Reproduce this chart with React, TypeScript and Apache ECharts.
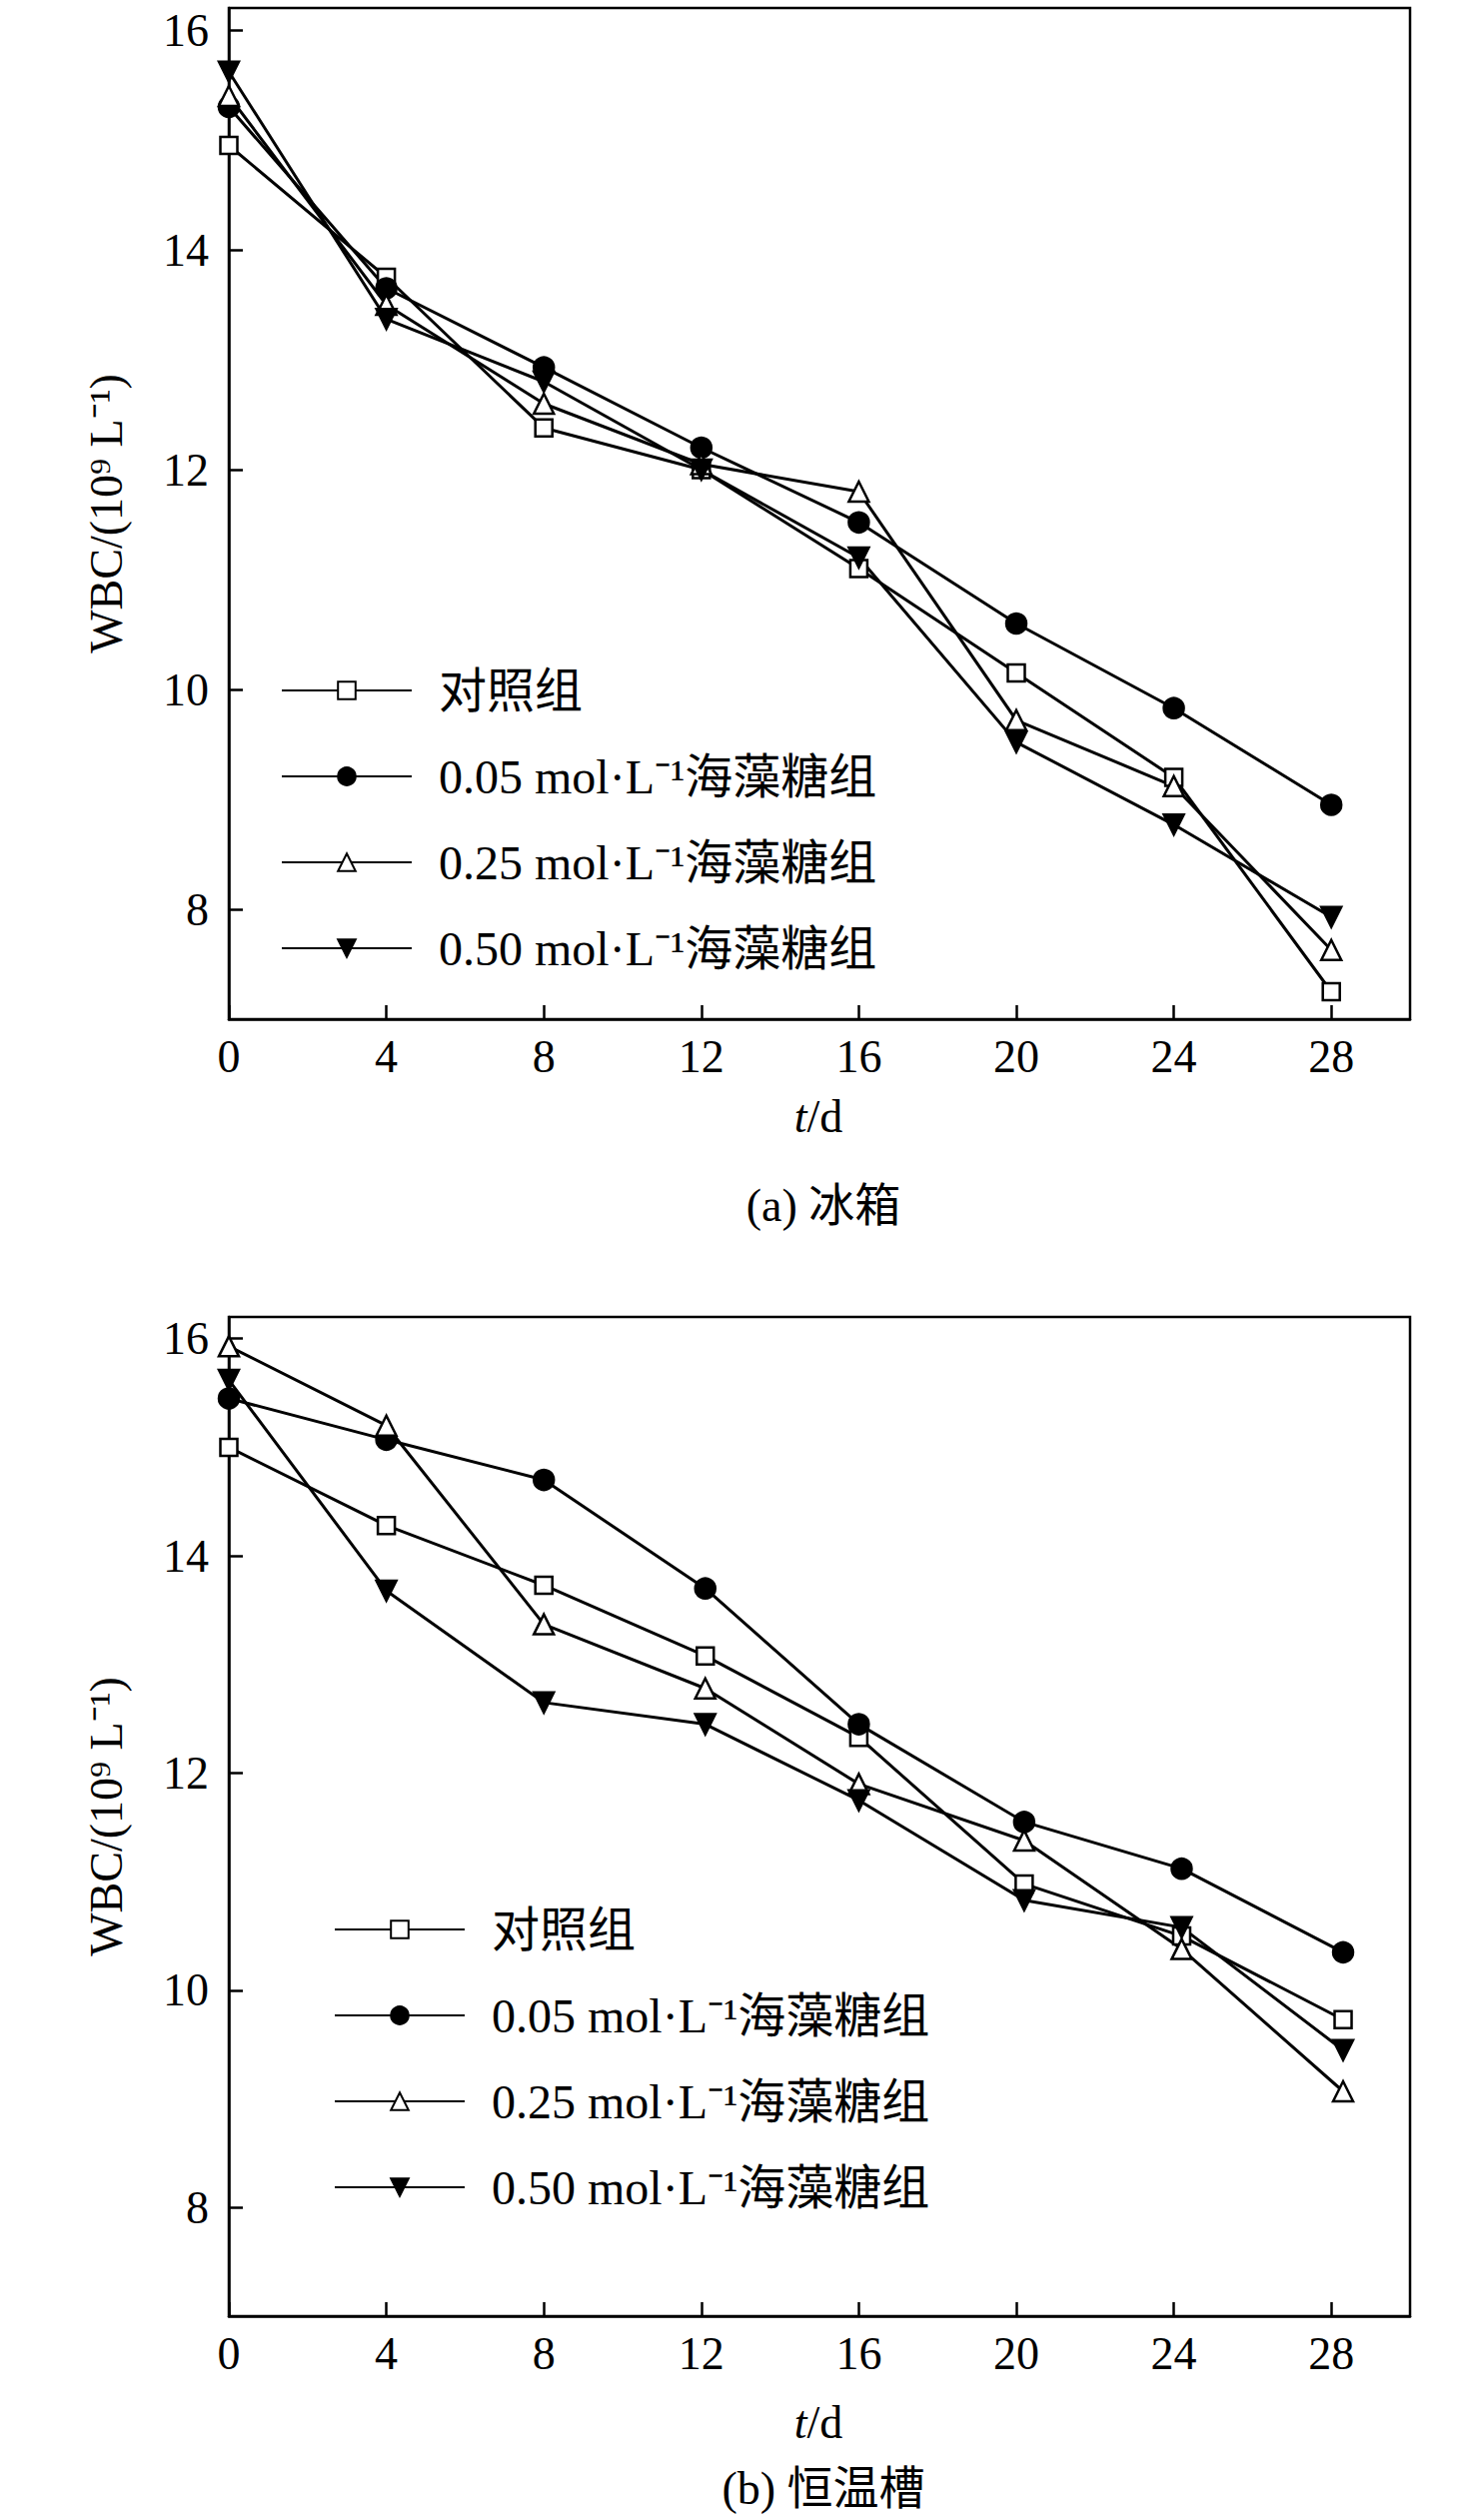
import React, { useEffect, useRef } from 'react';
import * as echarts from 'echarts';

const seriesNames = ['对照组', '0.05 mol·L⁻¹海藻糖组', '0.25 mol·L⁻¹海藻糖组', '0.50 mol·L⁻¹海藻糖组'];
const daysA = [0, 4, 8, 12, 16, 20, 24, 28];
const daysB = [0, 4, 8, 12.1, 16, 20.2, 24.2, 28.3];
const xTicks = [0, 4, 8, 12, 16, 20, 24, 28];
const yTicks = [8, 10, 12, 14, 16];

const fridge = [
  [14.95, 13.75, 12.38, 12.0, 11.1, 10.15, 9.2, 7.25],
  [15.3, 13.65, 12.93, 12.2, 11.52, 10.6, 9.83, 8.95],
  [15.4, 13.5, 12.6, 12.05, 11.8, 9.72, 9.12, 7.63],
  [15.62, 13.37, 12.8, 12.0, 11.2, 9.52, 8.77, 7.93],
];
const bath = [
  [15.0, 14.28, 13.73, 13.08, 12.33, 10.98, 10.5, 9.73],
  [15.45, 15.07, 14.7, 13.7, 12.45, 11.55, 11.12, 10.35],
  [15.93, 15.2, 13.37, 12.78, 11.9, 11.38, 10.38, 9.07],
  [15.62, 13.68, 12.65, 12.45, 11.75, 10.83, 10.58, 9.45],
];

const FONT = '"Liberation Serif", "Times New Roman", "Noto Sans CJK SC", serif';
const symbols = ['rect', 'circle', 'triangle', 'triangle'];
const fills = ['#fff', '#000', '#fff', '#000'];
const rotates = [0, 0, 0, 180];

const App: React.FC = () => {
  const ref = useRef<HTMLDivElement>(null);

  useEffect(() => {
    document.body.style.margin = '0';
    if (!ref.current) return;
    const chart = echarts.init(ref.current, undefined, { renderer: 'svg' });

    const tops = [8, 1318];
    const heights = [1012, 1000];
    const axisText = { fontFamily: FONT, fontSize: 46, color: '#000' };

    const makeSeries = (data: number[][], days: number[], idx: number) =>
      data.map((vals, i) => ({
        name: seriesNames[i],
        type: 'line' as const,
        xAxisIndex: idx,
        yAxisIndex: idx,
        data: vals.map((v, j) => [days[j], v]),
        symbol: symbols[i],
        symbolSize: i === 0 ? 17 : 20,
        symbolRotate: rotates[i],
        lineStyle: { color: '#000', width: 3 },
        itemStyle: { color: fills[i], borderColor: '#000', borderWidth: 2.5 },
      }));

    const tdText = (x: number, y: number) => ({
      type: 'text', x, y,
      style: {
        text: '{i|t}/d', font: `46px ${FONT}`, fill: '#000', align: 'center', verticalAlign: 'middle',
        rich: { i: { fontStyle: 'italic', fontFamily: FONT, fontSize: 46 } },
      },
    });

    chart.setOption({
      animation: false,
      textStyle: { fontFamily: FONT },
      grid: tops.map((t, i) => ({
        left: 229,
        width: 1192 - 10,
        top: t,
        height: heights[i],
        show: true,
        borderColor: '#000',
        borderWidth: 2.5,
      })),
      xAxis: [0, 1].map((i) => ({
        type: 'value',
        gridIndex: i,
        min: 0,
        max: 30,
        splitLine: { show: false },
        axisLine: { lineStyle: { color: '#000', width: 2.5 } },
        axisTick: { inside: true, length: 14, customValues: xTicks, lineStyle: { color: '#000', width: 2.5 } },
        axisLabel: { ...axisText, margin: 14, customValues: xTicks },
      })),
      yAxis: [0, 1].map((i) => ({
        type: 'value',
        gridIndex: i,
        min: 7,
        max: 16.2,
        splitLine: { show: false },
        axisLine: { lineStyle: { color: '#000', width: 2.5 } },
        axisTick: { inside: true, length: 14, customValues: yTicks, lineStyle: { color: '#000', width: 2.5 } },
        axisLabel: { ...axisText, margin: 20, customValues: yTicks },
        name: 'WBC/(10⁹ L⁻¹)',
        nameLocation: 'middle',
        nameGap: 100,
        nameTextStyle: { ...axisText },
      })),
      legend: [
        { left: 276, top: 662 },
        { left: 329, top: 1902 },
      ].map((p) => ({
        ...p,
        orient: 'vertical',
        itemWidth: 130,
        itemHeight: 22,
        itemGap: 38,
        data: seriesNames.map((n) => ({ name: n })),
        textStyle: { ...axisText, fontSize: 48, padding: [0, 0, 0, 22] },
      })),
      series: [...makeSeries(fridge, daysA, 0), ...makeSeries(bath, daysB, 1)],
      graphic: [
        tdText(819, 1117),
        { type: 'text', x: 824, y: 1206, style: { text: '(a) 冰箱', font: `46px ${FONT}`, fill: '#000', align: 'center', verticalAlign: 'middle' } },
        tdText(819, 2424),
        { type: 'text', x: 824, y: 2490, style: { text: '(b) 恒温槽', font: `46px ${FONT}`, fill: '#000', align: 'center', verticalAlign: 'middle' } },
      ],
    });

    return () => chart.dispose();
  }, []);

  return <div ref={ref} style={{ width: 1476, height: 2522 }} />;
};

export default App;
